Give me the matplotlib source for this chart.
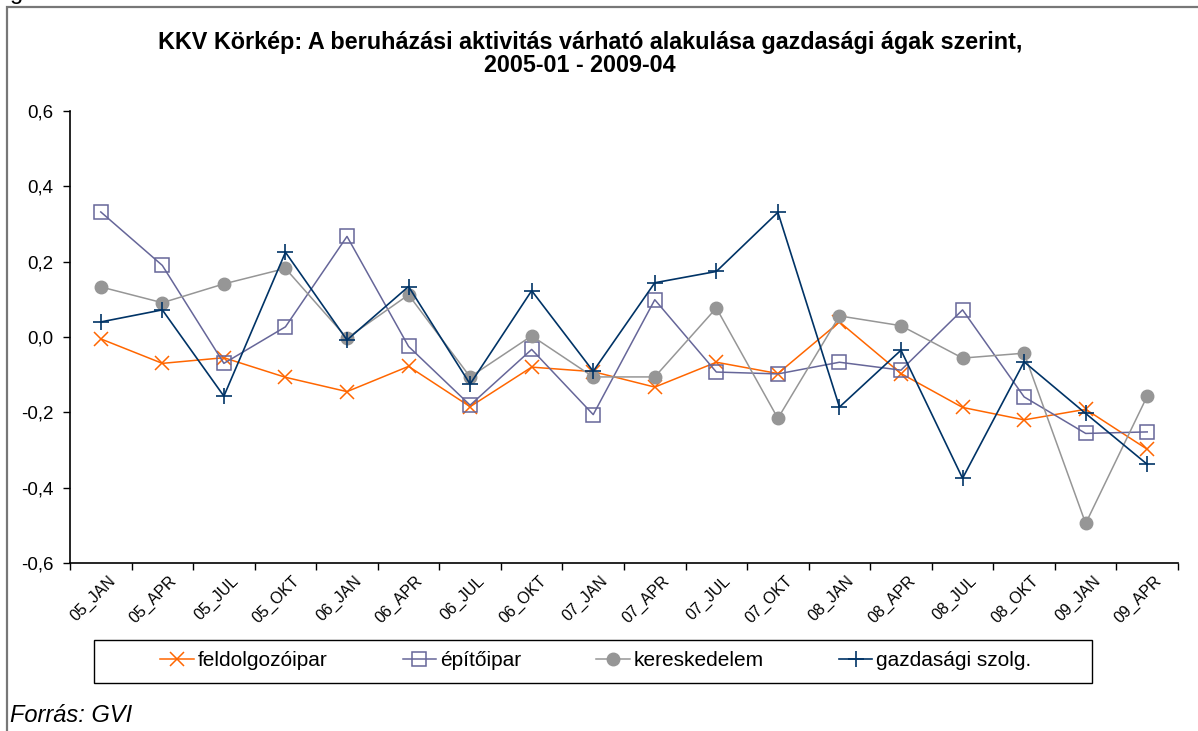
import matplotlib
matplotlib.use('Agg')
import matplotlib.pyplot as plt
from matplotlib.patches import Rectangle
from matplotlib.ticker import FuncFormatter
from matplotlib.transforms import ScaledTranslation
import numpy as np

plt.rcParams['font.family'] = ['Liberation Sans', 'DejaVu Sans']

# categories (quarters)
categories = ['05_JAN', '05_APR', '05_JUL', '05_OKT', '06_JAN', '06_APR', '06_JUL', '06_OKT',
              '07_JAN', '07_APR', '07_JUL', '07_OKT', '08_JAN', '08_APR', '08_JUL', '08_OKT',
              '09_JAN', '09_APR']

# series values
feldolgozoipar = [-0.005, -0.07, -0.055, -0.107, -0.145, -0.078, -0.185, -0.08,
                  -0.092, -0.133, -0.067, -0.097, 0.04, -0.097, -0.187, -0.22,
                  -0.192, -0.298]
epitoipar = [0.332, 0.19, -0.07, 0.027, 0.267, -0.025, -0.181, -0.033,
             -0.206, 0.099, -0.093, -0.098, -0.067, -0.088, 0.072, -0.159,
             -0.256, -0.252]
kereskedelem = [0.133, 0.091, 0.141, 0.182, -0.003, 0.112, -0.106, 0.003,
                -0.106, -0.106, 0.077, -0.216, 0.056, 0.03, -0.056, -0.043,
                -0.495, -0.157]
gazdasagi_szolg = [0.04, 0.072, -0.157, 0.225, -0.008, 0.134, -0.125, 0.123,
                   -0.091, 0.144, 0.174, 0.331, -0.186, -0.035, -0.375, -0.066,
                   -0.203, -0.338]

yticks = [-0.6, -0.4, -0.2, 0.0, 0.2, 0.4, 0.6]

W, H = 1198, 731
fig = plt.figure(figsize=(W / 100, H / 100), dpi=100)
ax = fig.add_axes([70 / W, 1 - 563 / H, 1108 / W, 452 / H])

x = np.arange(len(categories))
ax.plot(x, feldolgozoipar, color='#FF6600', lw=1.1, marker='x', ms=10, mew=1.1,
        label='feldolgozóipar')
ax.plot(x, epitoipar, color='#666699', lw=1.1, marker='s', ms=10, mew=1.1,
        mfc='none', label='építőipar')
ax.plot(x, kereskedelem, color='#969696', lw=1.1, marker='o', ms=9,
        label='kereskedelem')
ax.plot(x, gazdasagi_szolg, color='#003366', lw=1.2, marker='+', ms=12, mew=1.2,
        label='gazdasági szolg.')

ax.set_xlim(-0.5, len(categories) - 0.5)
ax.set_ylim(-0.6, 0.6)
ax.set_yticks(yticks)
ax.yaxis.set_major_formatter(FuncFormatter(lambda v, p: ('%.1f' % v).replace('.', ',')))
ax.tick_params(axis='y', labelsize=13.5, length=5, width=1, pad=7)

# ticks between categories, labels at category centres
ax.set_xticks(np.arange(-0.5, len(categories), 1.0))
ax.set_xticklabels([])
ax.tick_params(axis='x', which='major', length=5, width=1)
ax.set_xticks(x, minor=True)
ax.set_xticklabels(categories, minor=True, rotation=45, ha='right', va='center',
                   rotation_mode='anchor', fontsize=11.5)
ax.tick_params(axis='x', which='minor', length=0, pad=11)
for lab in ax.get_xticklabels(minor=True):
    lab.set_transform(lab.get_transform() + ScaledTranslation(0.12, 0, fig.dpi_scale_trans))

for s in ['top', 'right']:
    ax.spines[s].set_visible(False)
for s in ['left', 'bottom']:
    ax.spines[s].set_linewidth(1.2)

fig.text(590 / W, 1 - 42 / H, 'KKV Körkép: A beruházási aktivitás várható alakulása gazdasági ágak szerint,',
         ha='center', va='center', fontsize=16.8, fontweight='bold')
fig.text(580 / W, 1 - 66 / H, '2005-01 - 2009-04',
         ha='center', va='center', fontsize=16.8, fontweight='bold')

# legend box drawn separately, entries centred in it
fig.patches.append(Rectangle((94 / W, 1 - 683 / H), 998 / W, 43 / H,
                             transform=fig.transFigure, fill=False,
                             edgecolor='black', lw=1.0))
fig.legend(loc='center', bbox_to_anchor=(596 / W, 1 - 661 / H), ncol=4,
           fontsize=15, frameon=False, columnspacing=3.6, handlelength=1.6,
           handletextpad=0.2, borderpad=0.2)

fig.text(10 / W, 1 - 716 / H, 'Forrás: GVI', ha='left', va='center',
         fontsize=17, fontstyle='italic')

# outer frame (only top and left edges visible)
fig.patches.append(Rectangle((7 / W, -0.2), 1.2, 1.2 - 7 / H,
                             transform=fig.transFigure, fill=False,
                             edgecolor='#777777', lw=1.6))
fig.text(10 / W, 1 + 1 / H, 'g', ha='left', va='baseline', fontsize=17)

fig.savefig('out.png', dpi=100)
